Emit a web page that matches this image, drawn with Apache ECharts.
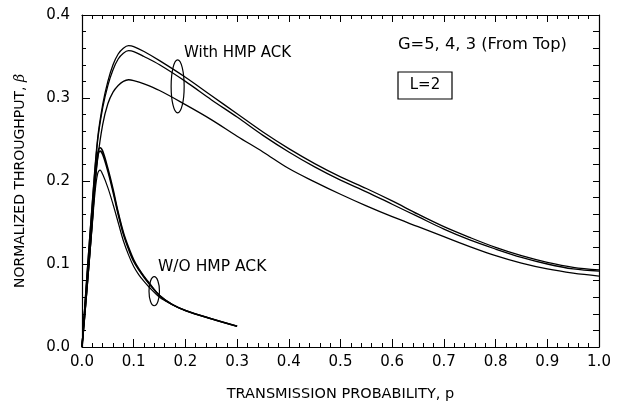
<!DOCTYPE html>
<html>
<head>
<meta charset="utf-8">
<script src="https://cdn.jsdelivr.net/npm/echarts@6/dist/echarts.min.js"></script>
<style>html,body{margin:0;padding:0;background:#fff}#c{width:620px;height:408px}</style>
</head>
<body>
<div id="c"></div>
<script>
// ---- data ----
var pWith = [0, 0.01, 0.02, 0.03, 0.04, 0.05, 0.06, 0.07, 0.08, 0.09, 0.10, 0.12, 0.15, 0.20, 0.25, 0.30, 0.35, 0.40, 0.45, 0.50, 0.55, 0.60, 0.65, 0.70, 0.75, 0.80, 0.85, 0.90, 0.95, 1.00];
var withG5 = [0, 0.09, 0.175, 0.25, 0.292, 0.320, 0.340, 0.353, 0.360, 0.363, 0.362, 0.356, 0.345, 0.325, 0.303, 0.281, 0.259, 0.239, 0.221, 0.205, 0.191, 0.176, 0.160, 0.145, 0.132, 0.120, 0.110, 0.102, 0.096, 0.093];
var withG4 = [0, 0.09, 0.173, 0.247, 0.288, 0.315, 0.334, 0.347, 0.354, 0.357, 0.356, 0.350, 0.340, 0.320, 0.298, 0.277, 0.255, 0.235, 0.217, 0.201, 0.187, 0.172, 0.157, 0.142, 0.129, 0.118, 0.108, 0.100, 0.094, 0.0915];
var withG3 = [0, 0.085, 0.160, 0.225, 0.268, 0.293, 0.307, 0.315, 0.320, 0.322, 0.321, 0.317, 0.309, 0.292, 0.274, 0.254, 0.235, 0.215, 0.199, 0.184, 0.170, 0.157, 0.145, 0.133, 0.121, 0.110, 0.101, 0.094, 0.089, 0.0855];

var pWo = [0, 0.01, 0.02, 0.025, 0.03, 0.035, 0.04, 0.05, 0.06, 0.07, 0.08, 0.09, 0.10, 0.11, 0.12, 0.13, 0.15, 0.175, 0.20, 0.25, 0.30];
var woG5 = [0, 0.075, 0.155, 0.200, 0.232, 0.240, 0.236, 0.215, 0.190, 0.162, 0.138, 0.120, 0.105, 0.094, 0.085, 0.077, 0.062, 0.051, 0.044, 0.034, 0.025];
var woG4 = [0, 0.074, 0.153, 0.197, 0.228, 0.236, 0.232, 0.212, 0.187, 0.160, 0.136, 0.118, 0.103, 0.093, 0.084, 0.076, 0.062, 0.051, 0.044, 0.034, 0.025];
var woG3 = [0, 0.072, 0.148, 0.185, 0.208, 0.213, 0.208, 0.192, 0.172, 0.150, 0.128, 0.111, 0.097, 0.087, 0.079, 0.072, 0.060, 0.051, 0.044, 0.034, 0.025];

var xTicks = [0, 1, 0.1];
var yTicks = [0, 0.4, 0.1];
var xTitle = 'TRANSMISSION PROBABILITY, p';
var yTitle = 'NORMALIZED THROUGHPUT, ';
var labelWith = 'With HMP ACK';
var labelWo = 'W/O HMP ACK';
var labelG = 'G=5, 4, 3 (From Top)';
var labelL = 'L=2';

function zip(xs, ys) { return xs.map(function (x, i) { return [x, ys[i]]; }); }

var FONT = 'DejaVu Sans';
var chart = echarts.init(document.getElementById('c'), null, {renderer: 'canvas'});

function mkSeries(xs, ys, w) {
  return {
    type: 'line', data: zip(xs, ys), showSymbol: false, symbol: 'none',
    smooth: 0.35,
    lineStyle: {color: '#000', width: w}, itemStyle: {color: '#000'},
    xAxisIndex: 0, yAxisIndex: 0, silent: true
  };
}

var axisLine = {show: true, onZero: false, lineStyle: {color: '#000', width: 1.2}};
var tickStyle = {color: '#000', width: 1};

chart.setOption({
  animation: false,
  backgroundColor: '#fff',
  grid: {left: 82, right: 21, top: 15, bottom: 61},
  xAxis: [
    {
      type: 'value', min: xTicks[0], max: xTicks[1], interval: xTicks[2], position: 'bottom',
      axisLine: axisLine, splitLine: {show: false},
      axisTick: {show: true, inside: true, length: 8, lineStyle: tickStyle},
      minorTick: {show: true, splitNumber: 5, length: 4, lineStyle: tickStyle},
      axisLabel: {color: '#000', fontFamily: FONT, fontSize: 15, margin: 8,
        formatter: function (v) { return v.toFixed(1); }},
      name: xTitle, nameLocation: 'middle', nameGap: 40,
      nameTextStyle: {color: '#000', fontFamily: FONT, fontSize: 14.5}
    },
    {
      type: 'value', min: xTicks[0], max: xTicks[1], interval: xTicks[2], position: 'top',
      axisLine: axisLine, splitLine: {show: false},
      axisTick: {show: true, inside: true, length: 7, lineStyle: tickStyle},
      minorTick: {show: true, splitNumber: 5, length: 4, lineStyle: tickStyle},
      axisLabel: {show: false}
    }
  ],
  yAxis: [
    {
      type: 'value', min: yTicks[0], max: yTicks[1], interval: yTicks[2], position: 'left',
      axisLine: axisLine, splitLine: {show: false},
      axisTick: {show: true, inside: true, length: 8, lineStyle: tickStyle},
      minorTick: {show: true, splitNumber: 5, length: 4, lineStyle: tickStyle},
      axisLabel: {color: '#000', fontFamily: FONT, fontSize: 15, margin: 12,
        formatter: function (v) { return v.toFixed(1); }},
      name: yTitle + '{b|β}', nameLocation: 'middle', nameGap: 55,
      nameTextStyle: {color: '#000', fontFamily: FONT, fontSize: 14,
        rich: {b: {fontFamily: 'DejaVu Serif', fontStyle: 'italic', fontSize: 14, color: '#000'}}}
    },
    {
      type: 'value', min: yTicks[0], max: yTicks[1], interval: 0.02, position: 'right',
      axisLine: axisLine, splitLine: {show: false},
      axisTick: {show: true, inside: true, length: 6, lineStyle: tickStyle},
      axisLabel: {show: false}
    }
  ],
  series: [
    mkSeries(pWith, withG5, 1.3),
    mkSeries(pWith, withG4, 1.3),
    mkSeries(pWith, withG3, 1.3),
    mkSeries(pWo, woG5, 1.6),
    mkSeries(pWo, woG4, 1.6),
    mkSeries(pWo, woG3, 1.2)
  ]
});

// annotations placed through the chart's own coordinate conversion
var e1 = chart.convertToPixel({gridIndex: 0}, [0.185, 0.314]);
var e1r = chart.convertToPixel({gridIndex: 0}, [0.185 + 0.0126, 0.314 + 0.032]);
var e2 = chart.convertToPixel({gridIndex: 0}, [0.1397, 0.0672]);
var e2r = chart.convertToPixel({gridIndex: 0}, [0.1397 + 0.0101, 0.0672 + 0.0175]);

var txt = function (x, y, s, align, size) {
  return {type: 'text', x: x, y: y, silent: true,
    style: {text: s, fill: '#000', font: (size || 15) + 'px "' + FONT + '"', textAlign: align || 'left', textVerticalAlign: 'middle'}};
};

chart.setOption({
  graphic: [
    {type: 'ellipse', silent: true, shape: {cx: e1[0], cy: e1[1], rx: Math.abs(e1r[0] - e1[0]), ry: Math.abs(e1r[1] - e1[1])},
      style: {fill: 'none', stroke: '#000', lineWidth: 1.2}},
    {type: 'ellipse', silent: true, shape: {cx: e2[0], cy: e2[1], rx: Math.abs(e2r[0] - e2[0]), ry: Math.abs(e2r[1] - e2[1])},
      style: {fill: 'none', stroke: '#000', lineWidth: 1.2}},
    txt(184, 53, labelWith),
    txt(158, 267, labelWo, 'left', 15.5),
    txt(398, 45, labelG, 'left', 16.3),
    {type: 'rect', silent: true, shape: {x: 398, y: 72, width: 54, height: 27},
      style: {fill: 'none', stroke: '#000', lineWidth: 1.2}},
    txt(425, 85.5, labelL, 'center')
  ]
});
</script>
</body>
</html>
